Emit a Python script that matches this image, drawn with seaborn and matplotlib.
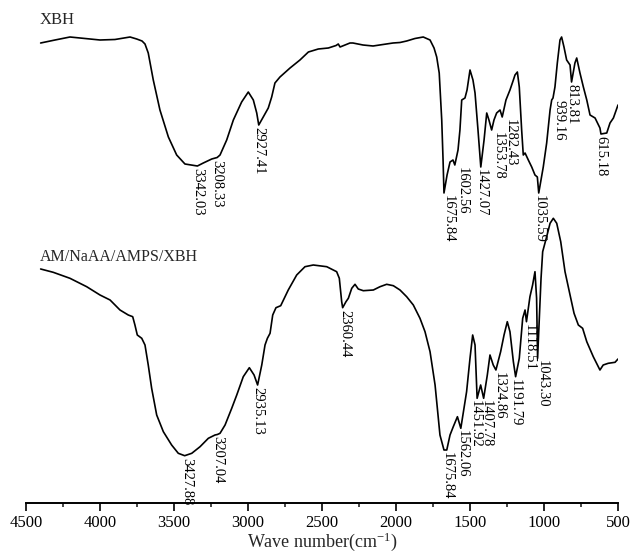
import numpy as np
import pandas as pd
import matplotlib
matplotlib.use("Agg")
import matplotlib.pyplot as plt
import seaborn as sns

# ---------------- data (wavenumber cm-1, relative transmittance, arbitrary units) -------------
xbh_wn = [4401, 4304, 4203, 4101, 4000, 3899, 3797, 3752, 3716, 3696, 3674, 3640, 3595, 3538,
          3482, 3426, 3342.03, 3302, 3245, 3208.33, 3189, 3144, 3099, 3043, 2998, 2964, 2941,
          2927.41, 2897, 2863, 2840, 2818, 2784, 2716, 2649, 2592, 2525, 2457, 2405, 2390, 2378,
          2311, 2291, 2223, 2155, 2088, 2020, 1973, 1928, 1872, 1816, 1770, 1743, 1725, 1708,
          1691, 1682, 1675.84, 1655, 1635, 1615, 1602.56, 1581, 1568, 1556, 1534, 1520, 1500,
          1480, 1466, 1446, 1427.07, 1405, 1387, 1372, 1353.78, 1338, 1320, 1297, 1282.43, 1257,
          1230, 1207, 1196, 1180, 1167, 1151, 1140, 1128, 1106, 1083, 1061, 1045, 1035.59, 1005,
          982, 959, 948, 939.16, 926, 910, 892, 881, 865, 847, 824, 813.81, 791, 779, 757, 734,
          711, 689, 655, 622, 615.18, 576, 554, 531, 500]
xbh_t = [460, 463, 466, 464.5, 463, 463.5, 466, 464, 462, 459, 450, 423, 393, 366,
         348, 339, 337, 340, 344, 345.5, 348, 363, 383, 401, 411, 403, 390,
         378, 386, 395, 406, 420, 426, 435, 443, 451, 454, 455, 457.5, 459, 456,
         460, 460, 458, 457, 458.5, 460, 460.5, 462, 464.5, 466, 463, 455, 446, 430,
         383, 343, 310, 328, 341, 343, 338, 353, 373, 403, 405, 413, 433,
         423, 410, 373, 336, 363, 390, 383, 373, 383, 390, 393, 386, 403,
         413, 423, 428, 431, 416, 373, 348, 350, 343, 336, 328, 326, 310, 336,
         360, 393, 403, 405, 416, 440, 463, 466, 456, 443, 438, 421, 440, 445, 430, 416,
         403, 388, 385, 375, 369, 370, 380, 385, 398]

am_wn = [4401, 4316, 4203, 4090, 4000, 3932, 3865, 3809, 3779, 3764, 3748, 3718, 3696, 3674,
         3651, 3617, 3572, 3516, 3471, 3427.88, 3380, 3324, 3268, 3223, 3207.04, 3189, 3155,
         3110, 3076, 3032, 2991, 2959, 2935.13, 2907, 2885, 2869, 2851, 2833, 2811, 2779, 2728,
         2671, 2615, 2559, 2468, 2401, 2383, 2367, 2360.44, 2338, 2322, 2299, 2277, 2255, 2221,
         2153, 2108, 2063, 2018, 1973, 1928, 1883, 1838, 1804, 1770, 1736, 1714, 1703, 1675.84,
         1657, 1635, 1613, 1585, 1562.06, 1523, 1500, 1482, 1466, 1451.92, 1428, 1407.78, 1383,
         1365, 1343, 1324.86, 1293, 1270, 1248, 1230, 1207, 1191.79, 1167, 1144, 1128, 1118.51,
         1095, 1077, 1061, 1050, 1043.30, 1020, 1009, 982, 959, 937, 914, 887, 858, 824, 797,
         768, 739, 711, 667, 622, 600, 566, 520, 500]
am_t = [234, 230.7, 224.7, 216.3, 208, 203, 193, 188, 186.3, 178, 168, 164.7, 158, 138,
        114.7, 88, 71.3, 58, 49.7, 47.3, 49.7, 56.3, 64.7, 68, 68.5, 69.7, 78,
        94.7, 108, 126.3, 135.3, 128, 118, 138, 158, 164.7, 169.7, 188, 195.3, 197.3, 213,
        228, 236.3, 238, 236.3, 231.3, 224.7, 201.3, 195.3, 201.3, 204.7, 214.7, 218.7, 214, 212.3,
        213, 216.3, 218.7, 217.3, 213, 206.3, 198, 184.7, 171.3, 151.3, 118, 84.7, 68, 53,
        53, 68, 76.3, 86.3, 74.7, 111.3, 144.7, 168, 158, 104.7, 118, 104.7, 128,
        148, 138, 133, 151.3, 168, 181.3, 171.3, 141.3, 126.3, 144.7, 184.7, 193, 181.3,
        206.3, 218, 231.3, 204.7, 144.7, 224.7, 251.3, 266.3, 279.7, 284.7, 279.7, 261.3, 231.3, 208, 189.7,
        178, 174.7, 161.3, 146.3, 133, 138, 139.7, 140.7, 144]

xbh_peaks = [3342.03, 3208.33, 2927.41, 1675.84, 1602.56, 1427.07, 1353.78, 1282.43,
             1035.59, 939.16, 813.81, 615.18]
am_peaks = [3427.88, 3207.04, 2935.13, 2360.44, 1675.84, 1562.06, 1451.92, 1407.78,
            1324.86, 1191.79, 1118.51, 1043.30]

series_names = ["XBH", "AM/NaAA/AMPS/XBH"]
x_ticks = [4500, 4000, 3500, 3000, 2500, 2000, 1500, 1000, 500]
x_label = "Wave number(cm$^{-1}$)"

# small horizontal nudges of some peak labels (pixels) to mimic the reference layout
xbh_nudge = {1675.84: 4, 1602.56: 7, 1353.78: 7, 1282.43: 8, 939.16: 6}
am_nudge = {3427.88: 2, 2360.44: 2, 1675.84: 3, 1562.06: 1, 1451.92: -2, 1407.78: 3,
            1324.86: 3, 1118.51: 3, 1043.30: 5}

# ---------------- style ----------------
sns.set_style("white")
plt.rcParams["font.family"] = ["Liberation Serif", "DejaVu Serif"]
plt.rcParams["mathtext.fontset"] = "custom"
plt.rcParams["mathtext.rm"] = "Liberation Serif"
plt.rcParams["mathtext.it"] = "Liberation Serif:italic"
plt.rcParams["mathtext.default"] = "regular"

W, H = 632, 554
fig = plt.figure(figsize=(W / 100, H / 100), dpi=100)
ax = fig.add_axes([26 / W, (H - 503) / H, (618 - 26) / W, (503 - 10) / H])

df = pd.concat([
    pd.DataFrame({"wn": xbh_wn, "T": xbh_t, "sample": series_names[0]}),
    pd.DataFrame({"wn": am_wn, "T": am_t, "sample": series_names[1]}),
])
sns.lineplot(data=df, x="wn", y="T", units="sample", estimator=None, sort=False,
             color="black", linewidth=1.2, ax=ax, legend=False)

ax.set_xlim(4500, 500)
ax.set_ylim(0, 493)
ax.set_xticks(x_ticks)
ax.set_xticks(np.arange(4250, 500, -500), minor=True)
ax.set_yticks([])
ax.set_ylabel("")
ax.set_xlabel(x_label, fontsize=13, labelpad=0)
for s in ["left", "right", "top"]:
    ax.spines[s].set_visible(False)
ax.spines["bottom"].set_linewidth(1.4)
ax.spines["bottom"].set_color("black")
ax.tick_params(axis="x", which="major", direction="out", length=5.5, width=1.2,
               labelsize=12, pad=3, colors="black", bottom=True)
ax.tick_params(axis="x", which="minor", direction="out", length=3, width=1.2, bottom=True)


def label_peaks(wn, t, peaks, nudge):
    xs = np.array(wn)[::-1]
    ys = np.array(t)[::-1]
    for p in peaks:
        yv = np.interp(p, xs, ys)
        ax.annotate(f"{p:.2f}", xy=(p, yv), xytext=(nudge.get(p, 0), -2),
                    textcoords="offset pixels", rotation=-90, ha="center", va="top",
                    fontsize=10.5, color="black")


label_peaks(xbh_wn, xbh_t, xbh_peaks, xbh_nudge)
label_peaks(am_wn, am_t, am_peaks, am_nudge)

fig.text(40 / W, 1 - 20 / H, series_names[0], fontsize=12, va="center", ha="left")
fig.text(40 / W, 1 - 257 / H, series_names[1], fontsize=11.5, va="center", ha="left")

fig.savefig("out.png", dpi=100)
